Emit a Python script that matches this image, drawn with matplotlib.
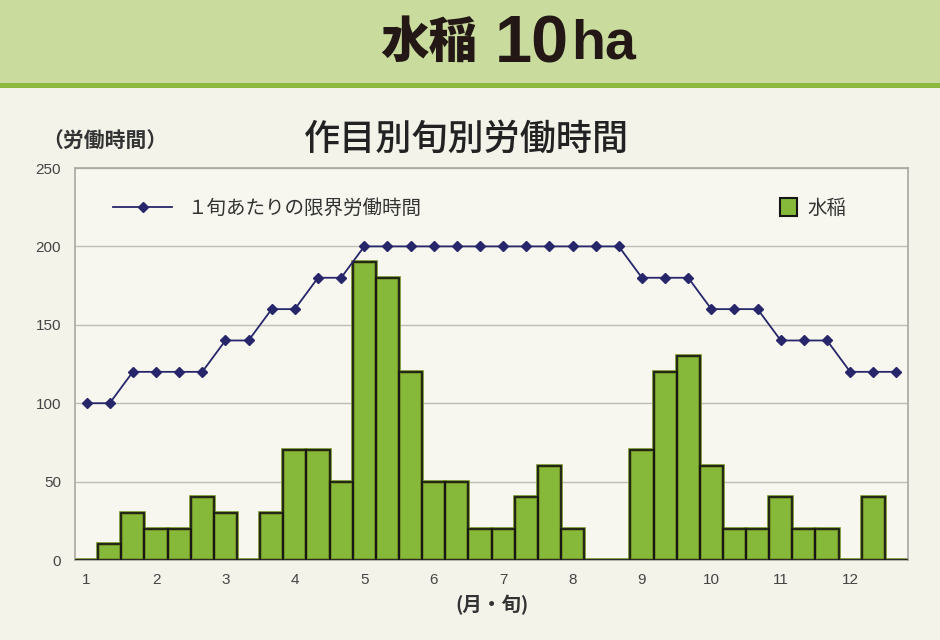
import numpy as np
import matplotlib
matplotlib.use("Agg")
import matplotlib.pyplot as plt
from matplotlib.patches import Rectangle
from matplotlib.lines import Line2D

plt.rcParams['font.family'] = ['Noto Sans CJK JP', 'DejaVu Sans']

# 36 旬 (上・中・下 x 12 months)
months = [str(m) for m in range(1, 13)]
work_hours = [0, 10, 30, 20, 20, 40, 30, 0, 30, 70, 70, 50,
              190, 180, 120, 50, 50, 20, 20, 40, 60, 20, 0, 0,
              70, 120, 130, 60, 20, 20, 40, 20, 20, 0, 40, 0]
limit_hours = [100, 100, 120, 120, 120, 120, 140, 140, 160, 160, 180, 180,
               200, 200, 200, 200, 200, 200, 200, 200, 200, 200, 200, 200,
               180, 180, 180, 160, 160, 160, 140, 140, 140, 120, 120, 120]
yticks = [0, 50, 100, 150, 200, 250]

bg = '#f3f3ea'
green = '#86b83a'
navy = '#27266a'
tick_font = ['Liberation Sans Narrow', 'Liberation Sans', 'DejaVu Sans']

fig = plt.figure(figsize=(9.4, 6.4), dpi=100, facecolor=bg)

# header band
fig.patches.append(Rectangle((0, 0.870), 1, 0.130, transform=fig.transFigure,
                             facecolor='#c9dc9e', edgecolor='none', zorder=0))
fig.patches.append(Rectangle((0, 0.862), 1, 0.008, transform=fig.transFigure,
                             facecolor='#8db83e', edgecolor='none', zorder=0))
fig.text(0.404, 0.912, '水稲', fontsize=35, fontweight='heavy', color='#231815',
         ha='left', va='baseline')
fig.text(0.526, 0.902, '10', fontsize=48, fontweight='bold', color='#231815',
         ha='left', va='baseline', family=['Liberation Sans', 'DejaVu Sans'])
fig.text(0.608, 0.909, 'ha', fontsize=40, fontweight='bold', color='#231815',
         ha='left', va='baseline', family=['Liberation Sans', 'DejaVu Sans'])

ax = fig.add_axes([0.0798, 0.125, 0.8862, 0.6125])
ax.set_facecolor('#f7f7f0')

x = np.arange(len(work_hours))
ax.bar(x, work_hours, width=1.0, color=green, edgecolor='#6f8c22', linewidth=2.6, zorder=2)
ax.bar(x, work_hours, width=1.0, color='none', edgecolor='#151515', linewidth=1.2, zorder=3)
ax.plot(x, limit_hours, color=navy, linewidth=1.3, marker='D', markersize=5,
        markerfacecolor=navy, markeredgecolor=navy, zorder=4)

ax.set_xlim(-0.5, len(work_hours) - 0.5)
ax.set_ylim(0, 250)
ax.set_yticks(yticks)
ax.set_yticklabels([str(v) for v in yticks], family=tick_font, fontsize=11, color='#444444')
ax.set_xticks(x[::3])
ax.set_xticklabels(months, family=tick_font, fontsize=11, color='#444444')
ax.tick_params(axis='y', length=0, pad=10)
ax.tick_params(axis='x', length=0, pad=9)
ax.grid(axis='y', color='#bdbdb5', linewidth=1.0, zorder=0)
ax.set_axisbelow(True)
for s in ax.spines.values():
    s.set_color('#a8a8a0')
    s.set_linewidth(1.2)

ax.set_xlabel('(月・旬)', fontsize=14, fontweight='bold', color='#333333', labelpad=6)

line_handle = Line2D([], [], color=navy, linewidth=1.3, marker='D', markersize=5)
leg1 = ax.legend([line_handle], ['１旬あたりの限界労働時間'], loc='center left',
                 bbox_to_anchor=(0.025, 0.898), frameon=False, fontsize=14,
                 handlelength=3.0, handletextpad=0.8, labelcolor='#333333')
ax.add_artist(leg1)
bar_handle = Rectangle((0, 0), 1, 1, facecolor=green, edgecolor='#151515', linewidth=1.5)
ax.legend([bar_handle], ['水稲'], loc='center left', bbox_to_anchor=(0.825, 0.898),
          frameon=False, fontsize=14, handlelength=0.9, handleheight=1.1,
          handletextpad=0.5, labelcolor='#333333')

fig.text(0.496, 0.781, '作目別旬別労働時間', fontsize=26, fontweight='medium',
         color='#222222', ha='center', va='center')
fig.text(0.045, 0.781, '（労働時間）', fontsize=15, fontweight='bold', color='#333333',
         ha='left', va='center')

fig.savefig('out.png', dpi=100, facecolor=bg)
